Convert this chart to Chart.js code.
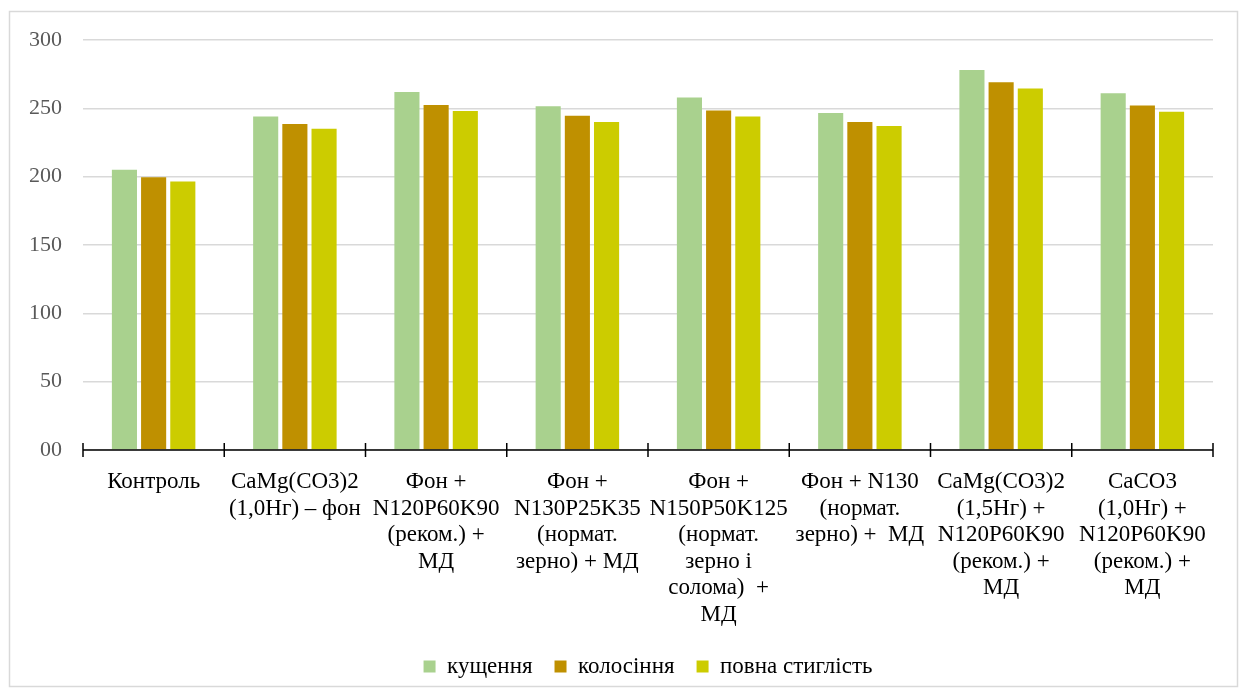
<!DOCTYPE html>
<html>
<head>
<meta charset="utf-8">
<script src="https://cdn.jsdelivr.net/npm/chart.js@4"></script>
<style>
  html, body { margin: 0; padding: 0; background: #fff; }
  #wrap { width: 1246px; height: 695px; position: relative; }
</style>
</head>
<body>
<div id="wrap"><canvas id="chart" width="1246" height="695"></canvas></div>
<script>
// categories (multi-line labels as in the original)
const categories = [
    ["Контроль"],
    ["CaMg(CO3)2", "(1,0Нг) – фон"],
    ["Фон +", "N120P60K90", "(реком.) +", "МД"],
    ["Фон +", "N130P25K35", "(нормат.", "зерно) + МД"],
    ["Фон +", "N150P50K125", "(нормат.", "зерно і", "солома)  +", "МД"],
    ["Фон + N130", "(нормат.", "зерно) +  МД"],
    ["CaMg(CO3)2", "(1,5Нг) +", "N120P60K90", "(реком.) +", "МД"],
    ["CaCO3", "(1,0Нг) +", "N120P60K90", "(реком.) +", "МД"]
];

const seriesNames = ["кущення", "колосіння", "повна стиглість"];
const kushchennia = [205, 244, 262, 251.5, 258, 246.5, 278, 261];
const kolosinnia = [199.5, 238.5, 252.5, 244.5, 248.5, 240, 269, 252];
const povnaStyhlist = [196.5, 235, 248, 240, 244, 237, 264.5, 247.5];
const yTicks = [0, 50, 100, 150, 200, 250, 300];

const colors = ["#a9d18e", "#bf9000", "#cccc00"];
const serif = "'Liberation Serif', 'Times New Roman', serif";

// draws the outer frame and the small category tick marks across the x axis
const frameAndTicks = {
    id: 'frameAndTicks',
    beforeDraw(chart) {
        const ctx = chart.ctx;
        ctx.save();
        ctx.fillStyle = '#fff';
        ctx.fillRect(0, 0, chart.width, chart.height);
        ctx.strokeStyle = '#d9d9d9';
        ctx.lineWidth = 1.5;
        ctx.strokeRect(9.5, 11.5, 1228, 675);
        ctx.restore();
    },
    afterDraw(chart) {
        const ctx = chart.ctx;
        const x = chart.scales.x;
        const y0 = chart.scales.y.getPixelForValue(0);
        const half = (x.getPixelForValue(1) - x.getPixelForValue(0)) / 2;
        ctx.save();
        ctx.strokeStyle = '#000';
        ctx.lineWidth = 1.5;
        ctx.beginPath();
        ctx.moveTo(x.left, y0);
        ctx.lineTo(x.right, y0);
        for (let i = 0; i <= categories.length; i++) {
            const px = i < categories.length ? x.getPixelForValue(i) - half : x.getPixelForValue(i - 1) + half;
            ctx.moveTo(px, y0 - 7);
            ctx.lineTo(px, y0 + 7);
        }
        ctx.stroke();
        ctx.restore();
    }
};

new Chart(document.getElementById('chart').getContext('2d'), {
    type: 'bar',
    plugins: [frameAndTicks],
    data: {
        labels: categories,
        datasets: [
            { label: seriesNames[0], data: kushchennia, backgroundColor: colors[0] },
            { label: seriesNames[1], data: kolosinnia, backgroundColor: colors[1] },
            { label: seriesNames[2], data: povnaStyhlist, backgroundColor: colors[2] }
        ]
    },
    options: {
        responsive: false,
        animation: false,
        layout: { padding: { left: 0, right: 33, top: 40, bottom: 7 } },
        datasets: { bar: { categoryPercentage: 0.62, barPercentage: 0.86 } },
        scales: {
            x: {
                grid: { display: false },
                border: { display: false },
                ticks: {
                    color: '#000',
                    padding: 11,
                    maxRotation: 0,
                    autoSkip: false,
                    font: { family: serif, size: 23, lineHeight: 1.15 }
                },
                afterFit(scale) { scale.height = 183; }
            },
            y: {
                min: 0,
                max: 300,
                afterBuildTicks(scale) { scale.ticks = yTicks.map(v => ({ value: v })); },
                grid: { color: '#d9d9d9', lineWidth: 1.5, drawTicks: false },
                border: { display: false },
                ticks: {
                    color: '#595959',
                    padding: 21,
                    font: { family: serif, size: 22 },
                    callback: v => v === 0 ? '00' : v
                },
                afterFit(scale) { scale.width = 83; }
            }
        },
        plugins: {
            legend: {
                position: 'bottom',
                fullSize: false,
                labels: {
                    color: '#000',
                    boxWidth: 12,
                    boxHeight: 12,
                    padding: 22,
                    font: { family: serif, size: 23 }
                }
            },
            tooltip: { enabled: false }
        }
    }
});
</script>
</body>
</html>
